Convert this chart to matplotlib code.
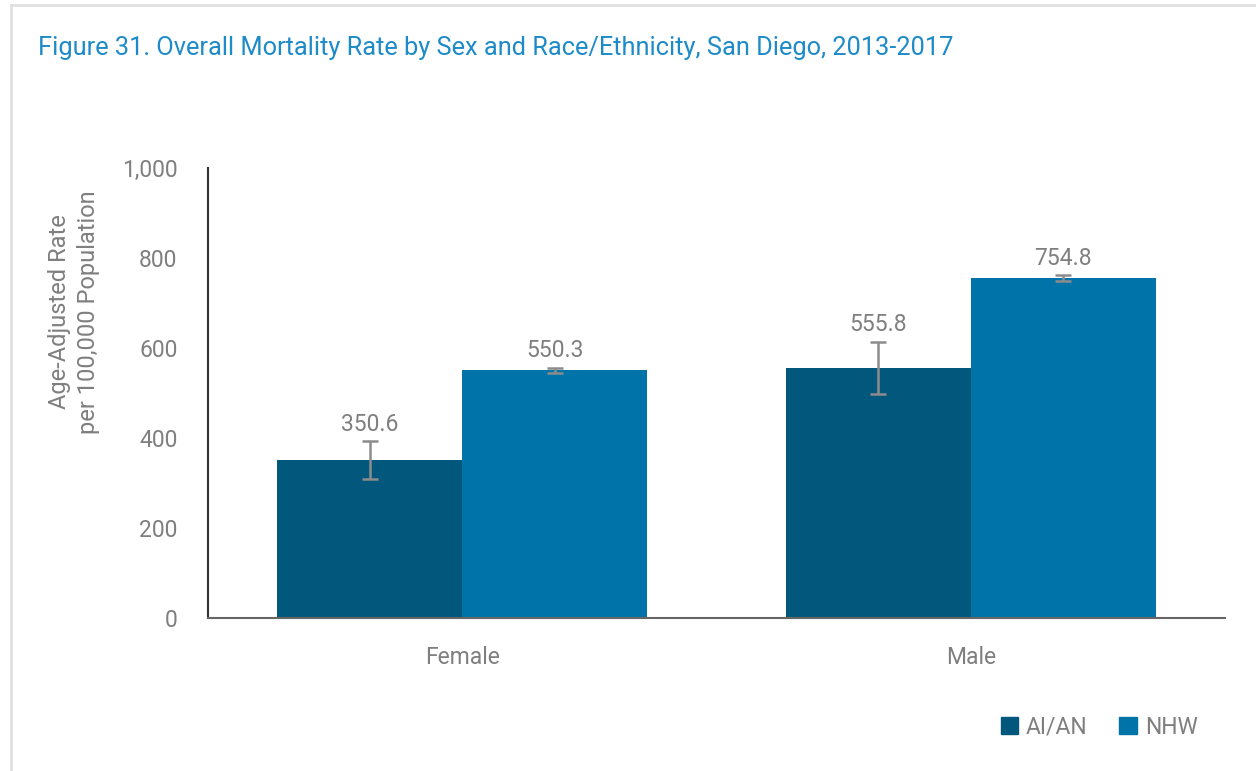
import matplotlib
matplotlib.use("Agg")
import matplotlib.pyplot as plt
import numpy as np
from matplotlib.lines import Line2D

# data
categories = ["Female", "Male"]
series_names = ["AI/AN", "NHW"]
aian_rates = [350.6, 555.8]
nhw_rates = [550.3, 754.8]
aian_ci_low = [309, 497]
aian_ci_high = [393, 614]
nhw_ci_low = [544, 748]
nhw_ci_high = [556, 762]
y_ticks = [0, 200, 400, 600, 800, 1000]

plt.rcParams['font.family'] = ['Roboto', 'DejaVu Sans']

gray = "#7f7f7f"
c_aian = "#02587c"
c_nhw = "#0073a8"

fig = plt.figure(figsize=(12.56, 7.71), dpi=100)
ax = fig.add_axes([208 / 1256, 1 - 618 / 771, 1017 / 1256, 450 / 771])

x = np.arange(len(categories))
w = 0.364
for vals, lo, hi, col, off in [(aian_rates, aian_ci_low, aian_ci_high, c_aian, -w / 2),
                               (nhw_rates, nhw_ci_low, nhw_ci_high, c_nhw, w / 2)]:
    ax.bar(x + off, vals, width=w, color=col, zorder=2)
    yerr = [np.array(vals) - np.array(lo), np.array(hi) - np.array(vals)]
    ax.errorbar(x + off, vals, yerr=yerr, fmt='none', ecolor="#8c8c8c",
                elinewidth=1.8, capsize=6, capthick=1.8, zorder=3)
    for xi, v, h in zip(x + off, vals, hi):
        ax.text(xi, h + 12, f"{v:.1f}", ha='center', va='bottom',
                fontsize=16.5, color=gray)

ax.set_xlim(-0.5, 1.5)
ax.set_ylim(0, 1000)
ax.set_yticks(y_ticks)
ax.set_yticklabels([f"{t:,}" for t in y_ticks])
ax.set_xticks(x)
ax.set_xticklabels(categories)
ax.tick_params(length=0, labelsize=16.5, labelcolor=gray)
ax.tick_params(axis='y', pad=22)
ax.tick_params(axis='x', pad=20)
for s in ['top', 'right']:
    ax.spines[s].set_visible(False)
ax.spines['left'].set_color('#333333')
ax.spines['left'].set_linewidth(1.5)
ax.spines['bottom'].set_color('#666666')
ax.spines['bottom'].set_linewidth(1.5)

fig.text(74 / 1256, 1 - 312 / 771, "Age-Adjusted Rate\nper 100,000 Population", fontsize=17,
         color=gray, rotation=90, ha='center', va='center', linespacing=1.3)

fig.text(38 / 1256, 1 - 48 / 771, "Figure 31. Overall Mortality Rate by Sex and Race/Ethnicity, San Diego, 2013-2017",
         fontsize=18.3, color="#1e8bc9", ha='left', va='center')

handles = [plt.Rectangle((0, 0), 1, 1, color=c_aian),
           plt.Rectangle((0, 0), 1, 1, color=c_nhw)]
fig.legend(handles, series_names, loc='center', bbox_to_anchor=(1099 / 1256, 1 - 727 / 771),
           ncol=2, frameon=False, fontsize=16.5, labelcolor=gray,
           handlelength=0.75, handleheight=0.75, handletextpad=0.35, columnspacing=1.4)

# light frame around the figure panel
fig.add_artist(Line2D([10.5 / 1256, 10.5 / 1256], [0, 1 - 5 / 771], color="#e0e0e0", lw=2))
fig.add_artist(Line2D([10.5 / 1256, 1], [1 - 5 / 771, 1 - 5 / 771], color="#e0e0e0", lw=2))

fig.savefig("out.png", dpi=100)
